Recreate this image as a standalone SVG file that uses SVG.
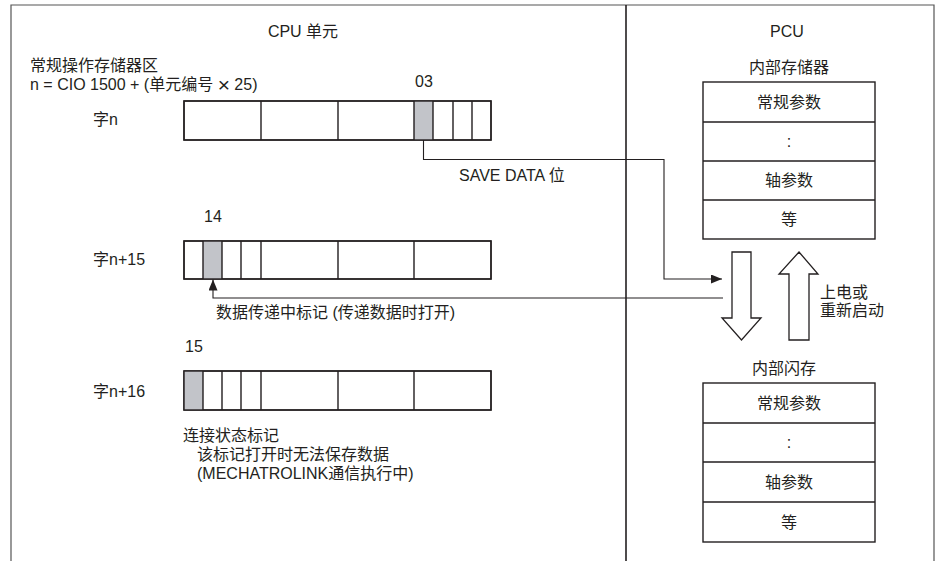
<svg xmlns="http://www.w3.org/2000/svg" width="937" height="561" viewBox="0 0 937 561">
<defs>
<style>
.t{font-family:"Liberation Sans","Noto Sans CJK SC",sans-serif;font-size:16px;fill:#231f20}
.m{text-anchor:middle}
.x{font-size:21px}
.cell{fill:#fff;stroke:#231f20;stroke-width:1.4}
.box{fill:none;stroke:#231f20;stroke-width:1.4}
.div{stroke:#231f20;stroke-width:1.4}
.gray{fill:#c2c4c9}
.frame{fill:none;stroke:#555;stroke-width:1.2}
.sep{stroke:#231f20;stroke-width:1.6}
.con{fill:none;stroke:#231f20;stroke-width:1.1}
.hollow{fill:#fff;stroke:#231f20;stroke-width:1.3;stroke-linejoin:miter}
</style>
<marker id="ah" markerWidth="11" markerHeight="9" refX="11" refY="4.5" orient="auto" markerUnits="userSpaceOnUse">
<path d="M0,0 L11,4.5 L0,9 Z" fill="#231f20"/>
</marker>
</defs>
<rect width="937" height="561" fill="#fff"/>
<g id="frame">
<path class="frame" d="M11,561 V5 H934 V561"/>
<line class="sep" x1="626" y1="5" x2="626" y2="561"/>
</g>
<g id="titles">
<text class="t m" x="303" y="37">CPU 单元</text>
<text class="t m" x="787" y="37">PCU</text>
<text class="t" x="30" y="71">常规操作存储器区</text>
<text class="t" x="30" y="90">n = CIO 1500 + (单元编号 <tspan class="x" dy="2">×</tspan><tspan dy="-2"> 25)</tspan></text>
</g>
<g id="word-n">
<text class="t" x="93" y="125">字n</text>
<text class="t m" x="424" y="87">03</text>
<rect class="cell" x="184" y="101" width="307" height="39"/>
<rect class="gray" x="414" y="101" width="19" height="39"/>
<path class="div" d="M261,101V140M338,101V140M414,101V140M433,101V140M453,101V140M472,101V140"/>
<rect class="box" x="184" y="101" width="307" height="39"/>
</g>
<g id="word-n15">
<text class="t" x="93" y="265">字n+15</text>
<text class="t m" x="213" y="222">14</text>
<rect class="cell" x="184" y="241" width="307" height="38"/>
<rect class="gray" x="203" y="241" width="19" height="38"/>
<path class="div" d="M203,241V279M222,241V279M241,241V279M261,241V279M338,241V279M414,241V279"/>
<rect class="box" x="184" y="241" width="307" height="38"/>
</g>
<g id="word-n16">
<text class="t" x="93" y="397">字n+16</text>
<text class="t m" x="194" y="352">15</text>
<rect class="cell" x="184" y="371" width="307" height="39"/>
<rect class="gray" x="184" y="371" width="19" height="39"/>
<path class="div" d="M203,371V410M222,371V410M241,371V410M261,371V410M338,371V410M414,371V410"/>
<rect class="box" x="184" y="371" width="307" height="39"/>
<text class="t" x="183" y="441">连接状态标记</text>
<text class="t" x="197" y="460">该标记打开时无法保存数据</text>
<text class="t" x="197" y="479">(MECHATROLINK通信执行中)</text>
</g>
<g id="internal-memory">
<text class="t m" x="789" y="73">内部存储器</text>
<rect class="cell" x="703" y="82" width="172" height="157"/>
<path class="div" d="M703,122H875M703,161H875M703,200H875"/>
<text class="t m" x="789" y="108">常规参数</text>
<text class="t m" x="789" y="147">:</text>
<text class="t m" x="789" y="186">轴参数</text>
<text class="t m" x="789" y="225">等</text>
</g>
<g id="internal-flash">
<text class="t m" x="784" y="374">内部闪存</text>
<rect class="cell" x="703" y="383" width="172" height="159"/>
<path class="div" d="M703,423H875M703,462H875M703,502H875"/>
<text class="t m" x="789" y="409">常规参数</text>
<text class="t m" x="789" y="448">:</text>
<text class="t m" x="789" y="488">轴参数</text>
<text class="t m" x="789" y="528">等</text>
</g>
<g id="transfer-arrows">
<polygon class="hollow" points="732,252 751,252 751,318 761,318 741.5,340 722,318 732,318"/>
<polygon class="hollow" points="799,252 818,274 809,274 809,340 789,340 789,274 779,274"/>
<text class="t" x="820" y="298">上电或</text>
<text class="t" x="820" y="316">重新启动</text>
</g>
<g id="connectors">
<path class="con" d="M423.5,140 V159.5 H664 V279 H722" marker-end="url(#ah)"/>
<text class="t" x="459" y="181">SAVE DATA 位</text>
<path class="con" d="M723,298 H213 V279.5" marker-end="url(#ah)"/>
<text class="t" x="216" y="318">数据传递中标记 (传递数据时打开)</text>
</g>
</svg>
